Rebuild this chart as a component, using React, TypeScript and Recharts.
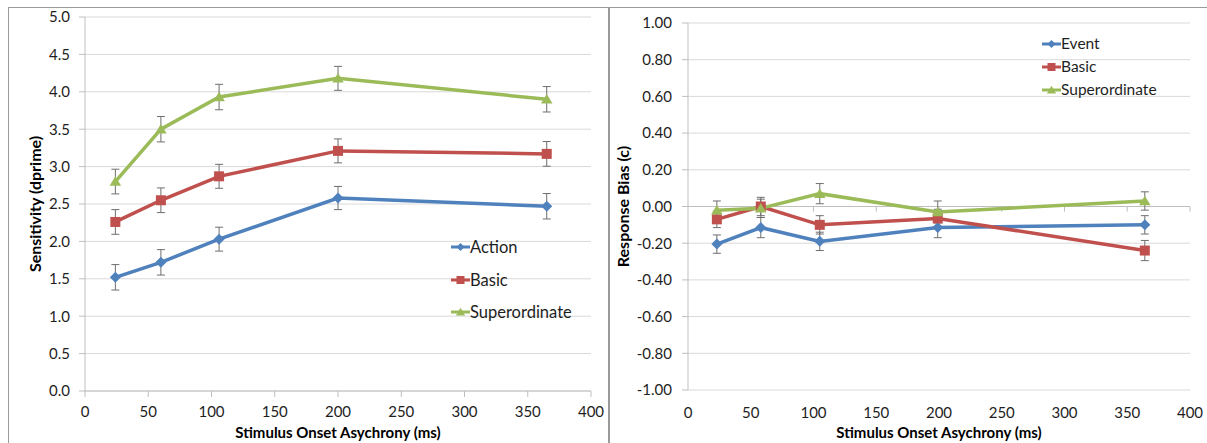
import React from "react";
import {
  LineChart,
  Line,
  XAxis,
  YAxis,
  CartesianGrid,
  ErrorBar,
  ReferenceLine,
  Legend,
} from "recharts";

const FONT = "Lato, 'Open Sans', sans-serif";
const BLUE = "#4F81BD";
const RED = "#C0504D";
const GREEN = "#9BBB59";
const GRID = "#d9d9d9";
const AXIS = "#bfbfbf";
const ERR = "#6e6e6e";
const TXT = "#1e1e1e";

// shared x ticks (ms)
const xTicks = [0, 50, 100, 150, 200, 250, 300, 350, 400];

// left: sensitivity (d')
const sensSoa = [24, 60, 106, 200, 365];
const sensAction = [1.52, 1.72, 2.03, 2.58, 2.47];
const sensActionErr = [0.17, 0.17, 0.16, 0.155, 0.17];
const sensBasic = [2.26, 2.55, 2.87, 3.21, 3.17];
const sensBasicErr = [0.165, 0.165, 0.16, 0.16, 0.165];
const sensSuper = [2.8, 3.5, 3.93, 4.18, 3.9];
const sensSuperErr = [0.165, 0.17, 0.17, 0.16, 0.17];
const sensTicks = [0, 0.5, 1, 1.5, 2, 2.5, 3, 3.5, 4, 4.5, 5];

// right: response bias (c)
const biasSoa = [23, 58, 105, 199, 364];
const biasEvent = [-0.205, -0.115, -0.19, -0.115, -0.1];
const biasEventErr = [0.05, 0.055, 0.05, 0.055, 0.05];
const biasBasic = [-0.07, 0.0, -0.1, -0.065, -0.24];
const biasBasicErr = [0.045, 0.05, 0.05, 0.05, 0.055];
const biasSuper = [-0.02, -0.01, 0.07, -0.03, 0.03];
const biasSuperErr = [0.05, 0.05, 0.055, 0.06, 0.05];
const biasTicks = [-1, -0.8, -0.6, -0.4, -0.2, 0, 0.2, 0.4, 0.6, 0.8, 1];
const zeroTicks = [50, 100, 150, 200, 250, 300, 350, 400];

const sensData = sensSoa.map((x, i) => ({
  x,
  a: sensAction[i],
  aErr: sensActionErr[i],
  b: sensBasic[i],
  bErr: sensBasicErr[i],
  s: sensSuper[i],
  sErr: sensSuperErr[i],
}));

const biasData = biasSoa.map((x, i) => ({
  x,
  a: biasEvent[i],
  aErr: biasEventErr[i],
  b: biasBasic[i],
  bErr: biasBasicErr[i],
  s: biasSuper[i],
  sErr: biasSuperErr[i],
}));

type Shape = "diamond" | "square" | "triangle";

function Marker({ shape, cx, cy, color, s }: { shape: Shape; cx: number; cy: number; color: string; s: number }) {
  if (cx == null || cy == null) return null;
  if (shape === "diamond")
    return <polygon points={`${cx},${cy - s} ${cx + s},${cy} ${cx},${cy + s} ${cx - s},${cy}`} fill={color} />;
  if (shape === "square") return <rect x={cx - s} y={cy - s} width={2 * s} height={2 * s} fill={color} />;
  return (
    <polygon
      points={`${cx},${cy - s * 1.05} ${cx + s * 1.15},${cy + s * 0.85} ${cx - s * 1.15},${cy + s * 0.85}`}
      fill={color}
    />
  );
}

const dotFn = (shape: Shape, color: string, s: number) => (p: any) =>
  <Marker key={`d-${p.index}`} shape={shape} cx={p.cx} cy={p.cy} color={color} s={s} />;

function LegendBox({ items, rowH, fontSize }: { items: { name: string; color: string; shape: Shape }[]; rowH: number; fontSize: number }) {
  return (
    <div style={{ fontFamily: FONT }}>
      {items.map((it) => (
        <div key={it.name} style={{ display: "flex", alignItems: "center", height: rowH }}>
          <svg width={19} height={12} style={{ display: "block" }}>
            <line x1={0} x2={19} y1={6} y2={6} stroke={it.color} strokeWidth={3} />
            <Marker shape={it.shape} cx={9.5} cy={6} color={it.color} s={4} />
          </svg>
          <span style={{ fontSize, color: TXT, lineHeight: 1 }}>{it.name}</span>
        </div>
      ))}
    </div>
  );
}

const tickStyle = { fontSize: 15, fill: TXT, fontFamily: FONT };
const xTitleStyle = { fontSize: 15, fontWeight: 700, fill: "#000", fontFamily: FONT, textAnchor: "middle" as const };
const yTitleStyle = { ...xTitleStyle, fontSize: 16 };

export default function App() {
  return (
    <div
      style={{
        position: "fixed",
        left: 0,
        top: 0,
        width: 1207,
        height: 443,
        background: "#fff",
        overflow: "hidden",
        fontFamily: FONT,
      }}
    >
      {/* panel frames */}
      <div style={{ position: "absolute", left: 8, top: 7, width: 601, height: 460, border: "1px solid #9a9a9a", boxSizing: "border-box" }} />
      <div style={{ position: "absolute", left: 609, top: 7, width: 620, height: 460, border: "1px solid #9a9a9a", boxSizing: "border-box" }} />

      {/* left chart: sensitivity */}
      <div style={{ position: "absolute", left: 0, top: 0 }}>
        <LineChart width={609} height={443} data={sensData} margin={{ top: 17, right: 18, left: 25, bottom: 12 }}>
          <CartesianGrid vertical={false} stroke={GRID} />
          <XAxis
            dataKey="x"
            type="number"
            domain={[0, 400]}
            ticks={xTicks}
            height={40}
            stroke={AXIS}
            tickSize={6}
            tickMargin={9}
            tick={tickStyle}
            label={{ value: "Stimulus Onset Asychrony (ms)", position: "insideBottom", offset: -7, style: xTitleStyle }}
          />
          <YAxis
            type="number"
            domain={[0, 5]}
            ticks={sensTicks}
            width={60}
            stroke={AXIS}
            tickSize={6}
            tickMargin={9}
            tick={tickStyle}
            tickFormatter={(v: number) => v.toFixed(1)}
            label={{ value: "Sensitivity (dprime)", angle: -90, position: "insideLeft", offset: 10, style: yTitleStyle }}
          />
          <Line dataKey="a" stroke={BLUE} strokeWidth={3.5} dot={dotFn("diamond", BLUE, 5.5)} activeDot={false} isAnimationActive={false}>
            <ErrorBar dataKey="aErr" width={4} stroke={ERR} strokeWidth={1} direction="y" />
          </Line>
          <Line dataKey="b" stroke={RED} strokeWidth={3.5} dot={dotFn("square", RED, 5)} activeDot={false} isAnimationActive={false}>
            <ErrorBar dataKey="bErr" width={4} stroke={ERR} strokeWidth={1} direction="y" />
          </Line>
          <Line dataKey="s" stroke={GREEN} strokeWidth={3.5} dot={dotFn("triangle", GREEN, 5)} activeDot={false} isAnimationActive={false}>
            <ErrorBar dataKey="sErr" width={4} stroke={ERR} strokeWidth={1} direction="y" />
          </Line>
          <Legend
            layout="vertical"
            verticalAlign="middle"
            align="center"
            wrapperStyle={{ left: 451, top: 231, width: 150 }}
            content={() => (
              <LegendBox
                rowH={32.5}
                fontSize={16.5}
                items={[
                  { name: "Action", color: BLUE, shape: "diamond" },
                  { name: "Basic", color: RED, shape: "square" },
                  { name: "Superordinate", color: GREEN, shape: "triangle" },
                ]}
              />
            )}
          />
        </LineChart>
      </div>

      {/* right chart: response bias */}
      <div style={{ position: "absolute", left: 609, top: 0 }}>
        <LineChart width={598} height={443} data={biasData} margin={{ top: 23, right: 17, left: 19, bottom: 13 }}>
          <CartesianGrid vertical={false} stroke={GRID} />
          <XAxis
            dataKey="x"
            type="number"
            domain={[0, 400]}
            ticks={xTicks}
            height={40}
            axisLine={false}
            tickLine={false}
            tickSize={6}
            tickMargin={11}
            tick={tickStyle}
            label={{ value: "Stimulus Onset Asychrony (ms)", position: "insideBottom", offset: -8, style: xTitleStyle }}
          />
          <YAxis
            type="number"
            domain={[-1, 1]}
            ticks={biasTicks}
            width={60}
            stroke={AXIS}
            tickSize={6}
            tickMargin={10}
            tick={tickStyle}
            tickFormatter={(v: number) => v.toFixed(2)}
            label={{ value: "Response Bias (c)", angle: -90, position: "insideLeft", offset: -5, style: yTitleStyle }}
          />
          <ReferenceLine y={0} stroke={AXIS} strokeWidth={1} />
          {zeroTicks.map((t) => (
            <ReferenceLine
              key={`zt-${t}`}
              segment={[
                { x: t, y: 0 },
                { x: t, y: -0.028 },
              ]}
              stroke={AXIS}
              strokeWidth={1}
            />
          ))}
          <Line dataKey="a" stroke={BLUE} strokeWidth={3.5} dot={dotFn("diamond", BLUE, 5.5)} activeDot={false} isAnimationActive={false}>
            <ErrorBar dataKey="aErr" width={4} stroke={ERR} strokeWidth={1} direction="y" />
          </Line>
          <Line dataKey="b" stroke={RED} strokeWidth={3.5} dot={dotFn("square", RED, 5)} activeDot={false} isAnimationActive={false}>
            <ErrorBar dataKey="bErr" width={4} stroke={ERR} strokeWidth={1} direction="y" />
          </Line>
          <Line dataKey="s" stroke={GREEN} strokeWidth={3.5} dot={dotFn("triangle", GREEN, 5)} activeDot={false} isAnimationActive={false}>
            <ErrorBar dataKey="sErr" width={4} stroke={ERR} strokeWidth={1} direction="y" />
          </Line>
          <Legend
            layout="vertical"
            verticalAlign="middle"
            align="center"
            wrapperStyle={{ left: 433, top: 32, width: 150 }}
            content={() => (
              <LegendBox
                rowH={23}
                fontSize={15.5}
                items={[
                  { name: "Event", color: BLUE, shape: "diamond" },
                  { name: "Basic", color: RED, shape: "square" },
                  { name: "Superordinate", color: GREEN, shape: "triangle" },
                ]}
              />
            )}
          />
        </LineChart>
      </div>
    </div>
  );
}
